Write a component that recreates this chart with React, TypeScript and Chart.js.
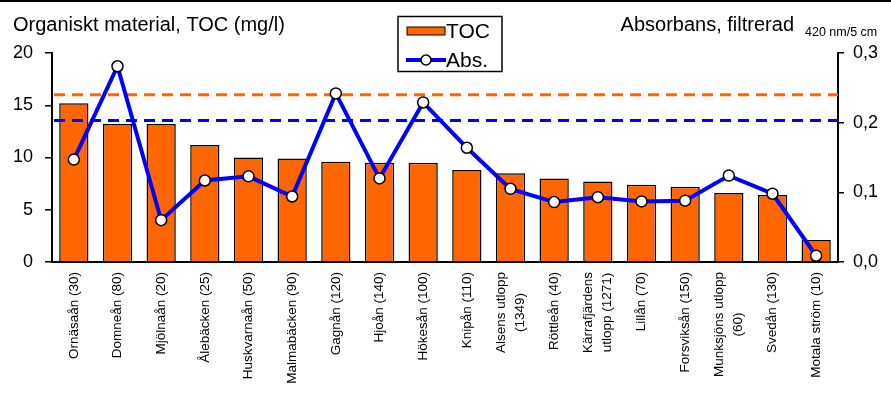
import React, { useEffect, useRef } from 'react';
import Chart from 'chart.js/auto';

const categories: (string | string[])[] = [
  'Ornäsaån (30)', 'Domneån (80)', 'Mjölnaån (20)', 'Ålebäcken (25)', 'Huskvarnaån (50)',
  'Malmabäcken (90)', 'Gagnån (120)', 'Hjoån (140)', 'Hökesån (100)', 'Knipån (110)',
  ['Alsens utlopp', '(1349)'], 'Röttleån (40)', ['Kärrafjärdens', 'utlopp (1271)'], 'Lillån (70)',
  'Forsviksån (150)', ['Munksjöns utlopp', '(60)'], 'Svedån (130)', 'Motala ström (10)',
];
const tocValues = [15.2, 13.2, 13.2, 11.2, 10.0, 9.9, 9.6, 9.5, 9.5, 8.8, 8.5, 8.0, 7.7, 7.4, 7.2, 6.6, 6.4, 2.1];
const absValues = [0.147, 0.281, 0.060, 0.117, 0.123, 0.094, 0.242, 0.120, 0.229, 0.164, 0.105, 0.086, 0.093, 0.087, 0.088, 0.124, 0.098, 0.009];
const tocReference = 16;
const absReference = 0.203;
const leftTitle = 'Organiskt material, TOC (mg/l)';
const rightTitle = 'Absorbans, filtrerad';
const rightTitleUnit = '420 nm/5 cm';
const legendLabels = ['TOC', 'Abs.'];

const FONT = 'Arial, "Liberation Sans", sans-serif';
const ORANGE = '#FF6600';
const BLUE = '#0000FF';

const decorPlugin = {
  id: 'decor',
  afterDatasetDraw(chart: any, args: any) {
    if (args.index !== 0) return;
    const { ctx, chartArea } = chart;
    const yL = chart.scales.y;
    const yR = chart.scales.y2;
    ctx.save();
    ctx.lineWidth = 3;
    ctx.setLineDash([11, 7]);
    ctx.strokeStyle = ORANGE;
    const yo = yL.getPixelForValue(tocReference);
    ctx.beginPath();
    ctx.moveTo(chartArea.left + 2, yo);
    ctx.lineTo(chartArea.right, yo);
    ctx.stroke();
    ctx.strokeStyle = BLUE;
    const yb = yR.getPixelForValue(absReference);
    ctx.beginPath();
    ctx.moveTo(chartArea.left + 2, yb);
    ctx.lineTo(chartArea.right, yb);
    ctx.stroke();
    ctx.restore();
  },
  afterDraw(chart: any) {
    const { ctx, chartArea } = chart;
    const xs = chart.scales.x;
    ctx.save();
    // top frame line
    ctx.fillStyle = '#000';
    ctx.fillRect(0, 0, chart.width, 2);
    // titles
    ctx.font = `20px ${FONT}`;
    ctx.textBaseline = 'alphabetic';
    ctx.textAlign = 'left';
    ctx.fillText(leftTitle, 13, 31);
    ctx.textAlign = 'right';
    ctx.fillText(rightTitle, 794, 31);
    ctx.font = `12.5px ${FONT}`;
    ctx.textAlign = 'left';
    ctx.fillText(rightTitleUnit, 805, 36);
    // legend
    ctx.lineWidth = 1.5;
    ctx.strokeStyle = '#000';
    ctx.strokeRect(398, 16.5, 104, 55);
    ctx.fillStyle = ORANGE;
    ctx.fillRect(407, 27, 38, 8);
    ctx.lineWidth = 1;
    ctx.strokeRect(407, 27, 38, 8);
    ctx.strokeStyle = BLUE;
    ctx.lineWidth = 4;
    ctx.beginPath();
    ctx.moveTo(406, 60);
    ctx.lineTo(446, 60);
    ctx.stroke();
    ctx.beginPath();
    ctx.arc(426, 60, 5, 0, Math.PI * 2);
    ctx.fillStyle = '#fff';
    ctx.fill();
    ctx.lineWidth = 1.5;
    ctx.strokeStyle = '#000';
    ctx.stroke();
    ctx.fillStyle = '#000';
    ctx.font = `21px ${FONT}`;
    ctx.textBaseline = 'middle';
    ctx.textAlign = 'left';
    ctx.fillText(legendLabels[0], 446, 32);
    ctx.fillText(legendLabels[1], 446, 61);
    // x labels
    ctx.font = `13.5px ${FONT}`;
    ctx.fillStyle = '#000';
    categories.forEach((lab, i) => {
      const lines = Array.isArray(lab) ? lab : [lab];
      const x = xs.getPixelForValue(i);
      const y0 = chartArea.bottom + 10;
      const w = Math.max(...lines.map((l) => ctx.measureText(l).width));
      ctx.save();
      ctx.translate(x, y0);
      ctx.rotate(-Math.PI / 2);
      ctx.textAlign = 'center';
      ctx.textBaseline = 'middle';
      const lh = 19;
      lines.forEach((l, j) => {
        ctx.fillText(l, -w / 2, (j - (lines.length - 1) / 2) * lh);
      });
      ctx.restore();
    });
    ctx.restore();
  },
};

export default function App() {
  const ref = useRef<HTMLCanvasElement>(null);
  useEffect(() => {
    document.body.style.margin = '0';
    const chart = new Chart(ref.current as HTMLCanvasElement, {
      type: 'bar',
      data: {
        labels: categories as any,
        datasets: [
          {
            type: 'bar',
            label: 'TOC',
            data: tocValues,
            backgroundColor: ORANGE,
            borderColor: '#000',
            borderWidth: 1.5,
            barPercentage: 0.67,
            categoryPercentage: 1,
            yAxisID: 'y',
            order: 2,
          },
          {
            type: 'line',
            label: 'Abs.',
            data: absValues,
            borderColor: BLUE,
            borderWidth: 4,
            pointRadius: 5.5,
            pointBackgroundColor: '#fff',
            pointBorderColor: '#000',
            pointBorderWidth: 1.5,
            tension: 0,
            yAxisID: 'y2',
            order: 1,
          } as any,
        ],
      },
      options: {
        animation: false,
        responsive: true,
        maintainAspectRatio: false,
        layout: { padding: { top: 53, left: 0, right: 0, bottom: 0 } },
        plugins: { legend: { display: false }, tooltip: { enabled: false } },
        scales: {
          x: {
            grid: { display: false },
            border: { display: true, color: '#000', width: 2 },
            ticks: { display: false },
            afterFit: (s: any) => { s.height = 135; },
          },
          y: {
            position: 'left',
            min: 0,
            max: 20,
            ticks: { stepSize: 5, color: '#000', font: { size: 18, family: FONT }, padding: 12 },
            grid: { drawOnChartArea: false, drawTicks: true, tickLength: 7, color: '#000', lineWidth: 1.5 },
            border: { display: true, color: '#000', width: 2 },
            afterFit: (s: any) => { s.width = 52; },
          },
          y2: {
            position: 'right',
            min: 0,
            max: 0.3,
            ticks: {
              stepSize: 0.1,
              color: '#000',
              font: { size: 18, family: FONT },
              padding: 9,
              callback: (v: any) => Number(v).toFixed(1).replace('.', ','),
            },
            grid: { drawOnChartArea: false, drawTicks: true, tickLength: 6, color: '#000', lineWidth: 1.5 },
            border: { display: true, color: '#000', width: 2 },
            afterFit: (s: any) => { s.width = 53; },
          },
        },
      },
      plugins: [decorPlugin],
    });
    return () => chart.destroy();
  }, []);
  return (
    <div style={{ width: 891, height: 397, position: 'relative', background: '#fff' }}>
      <canvas ref={ref} />
    </div>
  );
}
